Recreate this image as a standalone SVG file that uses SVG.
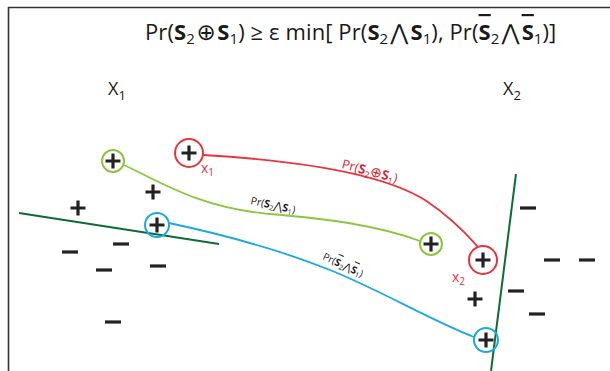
<svg xmlns="http://www.w3.org/2000/svg" xmlns:xlink="http://www.w3.org/1999/xlink" width="610" height="371" viewBox="0 0 610 371">
<style>
.t{font-family:"Open Sans","Liberation Sans",sans-serif;fill:#1a1a1a}
.b{font-weight:bold}
.w{font-family:"DejaVu Sans",sans-serif;font-weight:normal}
.sep{fill:none;stroke:#0f6b36;stroke-width:2}
.sym{stroke:#222;stroke-width:3.2;fill:none}
.red{stroke:#e8343c}
.grn{stroke:#8cc63f}
.blu{stroke:#1aa9e1}
.conn{fill:none;stroke-width:1.8}
.ring{fill:none;stroke-width:2}
</style>
<defs>
<path id="plus" d="M-7.5,0H7.5M0,-7.5V7.5" class="sym"/>
<path id="minus" d="M-8,0H8" class="sym"/>
</defs>
<rect width="610" height="371" fill="#fff"/>
<path d="M8.5,371V7.5H610" fill="none" stroke="#333" stroke-width="1.6"/>
<g id="title">
<text class="t" x="145" y="40" font-size="22" letter-spacing="0.1">Pr(<tspan class="b">S</tspan><tspan font-size="15" dy="4">2</tspan><tspan dy="-4" dx="1.5" class="w" font-size="23">⊕</tspan><tspan class="b" dx="1.5">S</tspan><tspan font-size="15" dy="4">1</tspan><tspan dy="-4">) ≥ ε min[ Pr(</tspan><tspan class="b">S</tspan><tspan font-size="15" dy="4">2</tspan><tspan dy="-4" dx="2" class="w" font-size="22">⋀</tspan><tspan class="b" dx="2">S</tspan><tspan font-size="15" dy="4">1</tspan><tspan dy="-4">), Pr(</tspan><tspan class="b" text-decoration="overline">S</tspan><tspan font-size="15" dy="4">2</tspan><tspan dy="-4" dx="2" class="w" font-size="22">⋀</tspan><tspan class="b" dx="2" text-decoration="overline">S</tspan><tspan font-size="15" dy="4">1</tspan><tspan dy="-4">)]</tspan></text>
</g>
<g id="axis-labels">
<text class="t" x="108" y="95" font-size="18">X<tspan font-size="13" dy="5">1</tspan></text>
<text class="t" x="503" y="95" font-size="18">X<tspan font-size="13" dy="5">2</tspan></text>
</g>
<g id="separators">
<line class="sep" x1="19" y1="213" x2="219" y2="244"/>
<line class="sep" x1="516" y1="174" x2="491" y2="371"/>
</g>
<g id="connectors">
<path class="conn red" d="M203,155 C290,160 380,172 425,200 C455,220 470,238 478,247"/>
<path class="conn grn" d="M124,165 C160,182 200,208 270,214 C330,219 380,226 420,241"/>
<path class="conn blu" d="M169,223 C230,236 280,250 330,270 C380,290 430,320 474,337"/>
</g>
<g id="connector-labels">
<text class="t" font-size="13" style="fill:#d42a3a" transform="translate(341,168) rotate(15)">Pr(<tspan class="b">S</tspan><tspan font-size="9" dy="3">2</tspan><tspan dy="-3" class="w" font-size="14">⊕</tspan><tspan class="b">S</tspan><tspan font-size="9" dy="3">1</tspan><tspan dy="-3">)</tspan></text>
<text class="t" font-size="10.5" transform="translate(250,204) rotate(12)">Pr(<tspan class="b">S</tspan><tspan font-size="7" dy="2">2</tspan><tspan dy="-2" class="w" font-size="11">⋀</tspan><tspan class="b">S</tspan><tspan font-size="7" dy="2">1</tspan><tspan dy="-2">)</tspan></text>
<text class="t" font-size="10" transform="translate(322,259) rotate(25)">Pr(<tspan class="b" text-decoration="overline">S</tspan><tspan font-size="7" dy="2">2</tspan><tspan dy="-2" class="w" font-size="10">⋀</tspan><tspan class="b" text-decoration="overline">S</tspan><tspan font-size="7" dy="2">1</tspan><tspan dy="-2">)</tspan></text>
</g>
<g id="node-x1">
<circle class="ring red" cx="189" cy="153" r="14"/>
<use xlink:href="#plus" x="189" y="153"/>
<text class="t" x="201" y="173" font-size="14" style="fill:#e8343c">x<tspan font-size="10" dy="3">1</tspan></text>
</g>
<g id="node-x2">
<circle class="ring red" cx="483" cy="260" r="14"/>
<use xlink:href="#plus" x="483" y="260"/>
<text class="t" x="452" y="282" font-size="14" style="fill:#e8343c">x<tspan font-size="10" dy="3">2</tspan></text>
</g>
<g id="node-green-a">
<circle class="ring grn" cx="113" cy="161" r="11"/>
<use xlink:href="#plus" x="113" y="161"/>
</g>
<g id="node-green-b">
<circle class="ring grn" cx="431" cy="244" r="11"/>
<use xlink:href="#plus" x="431" y="244"/>
</g>
<g id="node-blue-a">
<circle class="ring blu" cx="157" cy="225" r="12"/>
<use xlink:href="#plus" x="157" y="225"/>
</g>
<g id="node-blue-b">
<circle class="ring blu" cx="486" cy="340" r="12"/>
<use xlink:href="#plus" x="486" y="340"/>
</g>
<g id="points">
<use xlink:href="#plus" x="78" y="208"/>
<use xlink:href="#plus" x="153" y="192"/>
<use xlink:href="#plus" x="475" y="299"/>
<use xlink:href="#minus" x="70" y="252"/>
<use xlink:href="#minus" x="104" y="270"/>
<use xlink:href="#minus" x="121" y="244"/>
<use xlink:href="#minus" x="158" y="266"/>
<use xlink:href="#minus" x="113" y="322"/>
<use xlink:href="#minus" x="528" y="208"/>
<use xlink:href="#minus" x="552" y="260"/>
<use xlink:href="#minus" x="587" y="260"/>
<use xlink:href="#minus" x="516" y="291"/>
<use xlink:href="#minus" x="537" y="314"/>
</g>
</svg>
